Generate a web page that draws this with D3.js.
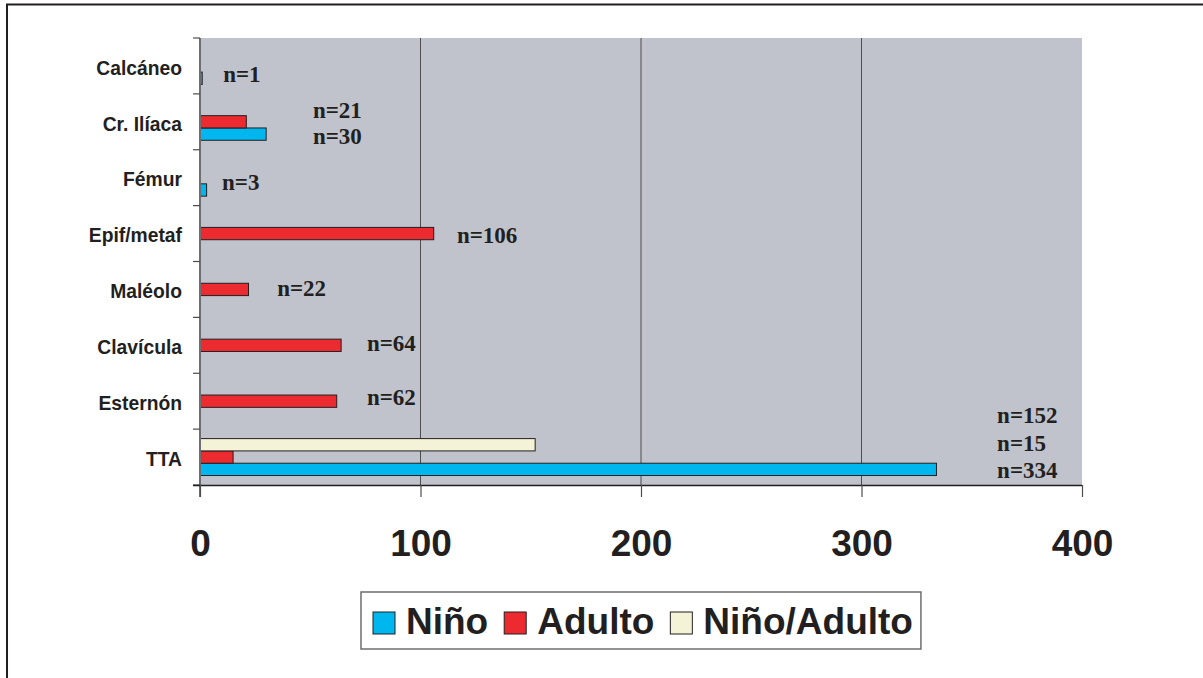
<!DOCTYPE html>
<html>
<head>
<meta charset="utf-8">
<script src="https://cdn.jsdelivr.net/npm/d3@7"></script>
<style>
  html, body { margin: 0; padding: 0; background: #ffffff; }
  svg { display: block; }
</style>
</head>
<body>
<svg id="chart" width="1203" height="678"></svg>
<script>
// Localisation categories, top to bottom
const categories = ["Calcáneo", "Cr. Ilíaca", "Fémur", "Epif/metaf", "Maléolo", "Clavícula", "Esternón", "TTA"];

// Case counts per series (one value per category)
const nino       = [1, 30, 3, 0, 0, 0, 0, 334];
const adulto     = [0, 21, 0, 106, 22, 64, 62, 15];
const ninoAdulto = [0, 0, 0, 0, 0, 0, 0, 152];

const seriesNames = ["Niño", "Adulto", "Niño/Adulto"];
const xTicks = [0, 100, 200, 300, 400];

// Annotation texts: category, text, start (value units), baseline offset from band centre (px)
const notes = [
  ["Calcáneo",   "n=1",   10.5, 16],
  ["Cr. Ilíaca", "n=21",  51.2, -4],
  ["Cr. Ilíaca", "n=30",  51.2, 22],
  ["Fémur",      "n=3",   10,   12],
  ["Epif/metaf", "n=106", 116.5, 9],
  ["Maléolo",    "n=22",  35,    7],
  ["Clavícula",  "n=64",  75.7,  6],
  ["Esternón",   "n=62",  75.7,  4],
  ["TTA",        "n=152", 361.5, -34],
  ["TTA",        "n=15",  361.5, -6],
  ["TTA",        "n=334", 361.5, 21]
];

const colors = { "Niño": "#00b6ee", "Adulto": "#ec2b31", "Niño/Adulto": "#f4f3d7" };
const ink = "#231f20";

const svg = d3.select("#chart");

// outer frame
svg.append("rect")
  .attr("x", 7).attr("y", 4.5)
  .attr("width", 1300).attr("height", 800)
  .attr("fill", "none").attr("stroke", ink).attr("stroke-width", 2);

const plot = { left: 200, right: 1082, top: 38, bottom: 485 };

const x = d3.scaleLinear().domain([0, 400]).range([plot.left, plot.right]);
const y = d3.scaleBand().domain(categories).range([plot.top, plot.bottom]).padding(0);
// within each band: Niño/Adulto on top, then Adulto, then Niño
const ySub = d3.scaleBand()
  .domain(["Niño/Adulto", "Adulto", "Niño"])
  .range([0, y.bandwidth()])
  .paddingInner(0).paddingOuter(0.77);

// plot background
svg.append("rect")
  .attr("x", plot.left).attr("y", plot.top)
  .attr("width", plot.right - plot.left).attr("height", plot.bottom - plot.top)
  .attr("fill", "#c0c3cb");

// vertical gridlines
svg.append("g").selectAll("line")
  .data(xTicks.filter(t => t > 0 && t < 400))
  .join("line")
  .attr("x1", d => x(d)).attr("x2", d => x(d))
  .attr("y1", plot.top).attr("y2", plot.bottom)
  .attr("stroke", "#4d4d4f").attr("stroke-width", 1);

// bars
const seriesValues = { "Niño": nino, "Adulto": adulto, "Niño/Adulto": ninoAdulto };
const barData = [];
seriesNames.forEach(s => {
  categories.forEach((c, i) => {
    const v = seriesValues[s][i];
    if (v > 0) barData.push({ series: s, cat: c, value: v });
  });
});

svg.append("g").selectAll("rect")
  .data(barData)
  .join("rect")
  .attr("x", x(0))
  .attr("y", d => y(d.cat) + ySub(d.series))
  .attr("width", d => x(d.value) - x(0))
  .attr("height", ySub.bandwidth())
  .attr("fill", d => colors[d.series])
  .attr("stroke", ink)
  .attr("stroke-width", 1);

// y axis (category labels, ticks at band edges)
const yAxis = svg.append("g");
yAxis.append("line")
  .attr("x1", plot.left).attr("x2", plot.left)
  .attr("y1", plot.top).attr("y2", plot.bottom + 12)
  .attr("stroke", "#6d6e71").attr("stroke-width", 2);
const edges = categories.map(c => y(c)).concat([plot.bottom]);
yAxis.selectAll("line.tk")
  .data(edges)
  .join("line")
  .attr("class", "tk")
  .attr("x1", plot.left - 7).attr("x2", plot.left)
  .attr("y1", d => d).attr("y2", d => d)
  .attr("stroke", "#4d4d4f").attr("stroke-width", 1.2);
yAxis.selectAll("text")
  .data(categories)
  .join("text")
  .attr("x", 182)
  .attr("y", d => y(d) + y.bandwidth() / 2 + 2)
  .attr("dy", "0.35em")
  .attr("text-anchor", "end")
  .attr("font-family", "Liberation Sans, Arial, sans-serif")
  .attr("font-weight", "bold")
  .attr("font-size", 19.3)
  .attr("fill", ink)
  .text(d => d);

// x axis
const xAxis = svg.append("g").attr("transform", `translate(0,${plot.bottom})`)
  .call(d3.axisBottom(x).tickValues(xTicks).tickSize(12).tickPadding(0).tickFormat(d3.format("d")));
xAxis.select(".domain").attr("stroke", ink).attr("stroke-width", 1.5).attr("d", `M${plot.left - 7},0.5H${plot.right}`);
xAxis.selectAll(".tick line").attr("stroke", "#4d4d4f").attr("stroke-width", 1.2);
xAxis.selectAll(".tick text")
  .attr("y", 71)
  .attr("dy", 0)
  .attr("font-family", "Liberation Sans, Arial, sans-serif")
  .attr("font-weight", "bold")
  .attr("font-size", 37)
  .attr("fill", ink);

// n= annotations
svg.append("g").selectAll("text")
  .data(notes)
  .join("text")
  .attr("x", d => x(d[2]))
  .attr("y", d => y(d[0]) + y.bandwidth() / 2 + d[3])
  .attr("font-family", "Liberation Serif, 'Times New Roman', serif")
  .attr("font-weight", "bold")
  .attr("font-size", 23)
  .attr("fill", ink)
  .text(d => d[1]);

// legend
const legend = svg.append("g");
const legendBox = legend.append("rect")
  .attr("x", 361).attr("y", 592).attr("height", 57)
  .attr("fill", "#ffffff").attr("stroke", "#6d6e71").attr("stroke-width", 1.5);
let lx = 373;
seriesNames.forEach(s => {
  legend.append("rect")
    .attr("x", lx).attr("y", 612).attr("width", 22).attr("height", 22)
    .attr("fill", colors[s]).attr("stroke", ink).attr("stroke-width", 1);
  const t = legend.append("text")
    .attr("x", lx + 33).attr("y", 634)
    .attr("font-family", "Liberation Sans, Arial, sans-serif")
    .attr("font-weight", "bold")
    .attr("font-size", 37)
    .attr("fill", ink)
    .text(s);
  lx += 33 + t.node().getComputedTextLength() + 16;
});
legendBox.attr("width", lx - 16 + 8 - 361);
</script>
</body>
</html>
